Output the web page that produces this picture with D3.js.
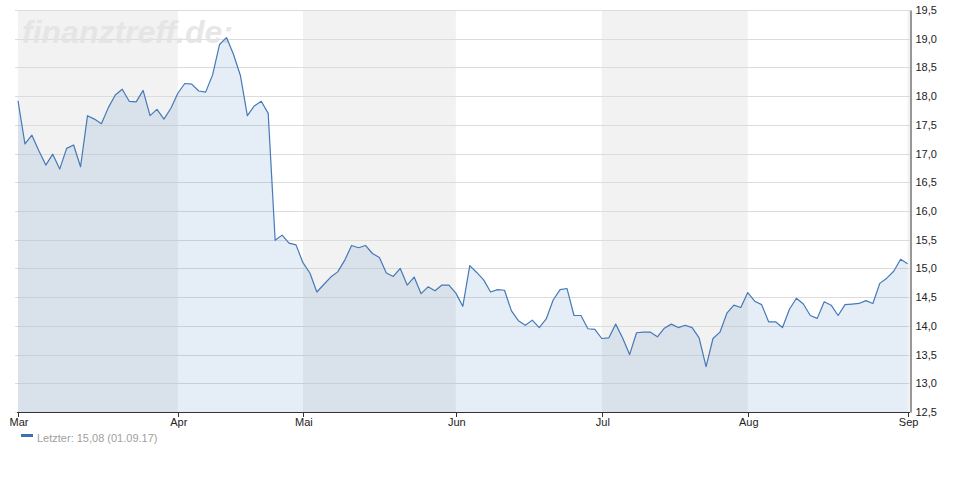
<!DOCTYPE html>
<html><head><meta charset="utf-8">
<script src="https://cdn.jsdelivr.net/npm/d3@7"></script>
<style>
html,body{margin:0;padding:0;background:#fff;}
svg{display:block;font-family:"Liberation Sans",Arial,sans-serif;}
</style></head>
<body><svg id="c" width="970" height="500"></svg>
<script>
// Daily closing prices (trading days, 01.03.17 – 01.09.17)
const values = [
17.92,17.17,17.32,17.05,16.80,16.99,16.73,17.09,17.15,16.77,
17.66,17.60,17.52,17.80,18.02,18.12,17.91,17.90,18.10,17.66,
17.77,17.60,17.79,
18.05,18.22,18.21,18.09,18.07,18.37,18.90,19.02,18.73,18.36,
17.66,17.83,17.91,17.70,15.49,15.58,15.44,15.41,
15.10,14.92,14.59,14.72,14.85,14.94,15.14,15.40,15.36,15.40,
15.26,15.19,14.92,14.86,15.00,14.71,14.85,14.56,14.68,14.61,
14.71,14.71,
14.57,14.34,15.05,14.93,14.80,14.59,14.63,14.62,14.26,14.09,
14.01,14.10,13.97,14.12,14.45,14.63,14.65,14.18,14.18,13.95,
13.94,
13.78,13.79,14.03,13.79,13.50,13.88,13.89,13.89,13.81,13.96,
14.03,13.97,14.01,13.97,13.79,13.29,13.78,13.89,14.22,14.36,
14.32,
14.58,14.43,14.37,14.07,14.07,13.97,14.29,14.48,14.38,14.18,
14.13,14.42,14.36,14.18,14.37,14.38,14.39,14.44,14.39,14.74,
14.83,14.95,15.16,
15.08
];
const monthLabels = ["Mar","Apr","Mai","Jun","Jul","Aug","Sep"];
const monthStartIdx = [0,23,41,63,84,105,128];
const yTicks = [12.5,13.0,13.5,14.0,14.5,15.0,15.5,16.0,16.5,17.0,17.5,18.0,18.5,19.0,19.5];
const legendText = "Letzter: 15,08 (01.09.17)";
const watermark = "finanztreff.de:";

const svg = d3.select("#c");
const x = d3.scaleLinear().domain([0, values.length-1]).range([18, 907.6]);
const y = d3.scaleLinear().domain([12.5, 19.5]).range([412, 10]);
const plotLeft = 15, plotRight = 910;

// alternating month bands
const bandG = svg.append("g");
monthStartIdx.forEach((s,i)=>{
  if (i%2===0){
    const e = i+1 < monthStartIdx.length ? x(monthStartIdx[i+1]) : plotRight;
    bandG.append("rect").attr("x", x(s)).attr("y", y(19.5))
      .attr("width", Math.max(0, e - x(s))).attr("height", y(12.5)-y(19.5))
      .attr("fill", "#f2f2f2");
  }
});

// gridlines
svg.append("g").selectAll("line").data(yTicks).join("line")
  .attr("x1", plotLeft).attr("x2", plotRight)
  .attr("y1", d=>Math.round(y(d))+0.5).attr("y2", d=>Math.round(y(d))+0.5)
  .attr("stroke", "#dcdcdc").attr("stroke-width", 1);

// watermark
svg.append("text").attr("x", 22).attr("y", 43).text(watermark)
  .attr("font-size", 32).attr("font-weight", "bold").attr("font-style", "italic")
  .attr("fill", "#e3e3e3").attr("fill-opacity", 0.85);

// area + line
const area = d3.area().x((d,i)=>x(i)).y0(y(12.5)).y1(d=>y(d));
svg.append("path").datum(values).attr("d", area)
  .attr("fill", "rgb(70,125,190)").attr("fill-opacity", 0.14);
const line = d3.line().x((d,i)=>x(i)).y(d=>y(d));
svg.append("path").datum(values).attr("d", line)
  .attr("fill", "none").attr("stroke", "#4579b8").attr("stroke-width", 1.2)
  .attr("stroke-linejoin", "round");

// x axis
const xAxisG = svg.append("g");
xAxisG.append("line").attr("x1", plotLeft+2).attr("x2", plotRight)
  .attr("y1", 412.5).attr("y2", 412.5).attr("stroke", "#333").attr("stroke-width", 1);
monthStartIdx.forEach((s,i)=>{
  const xx = Math.round(x(s))+0.5;
  xAxisG.append("line").attr("x1", xx).attr("x2", xx).attr("y1", 412).attr("y2", 417)
    .attr("stroke", "#333");
  xAxisG.append("text").attr("x", x(s)+1).attr("y", 426).attr("text-anchor", "middle")
    .attr("font-size", 11).attr("fill", "#222").text(monthLabels[i]);
});

// y axis (right)
const yAxis = d3.axisRight(y).tickValues(yTicks).tickSize(0).tickPadding(5)
  .tickFormat(d=>d3.format(".1f")(d).replace(".", ","));
const yg = svg.append("g").attr("transform", `translate(${plotRight+0.5},0)`).call(yAxis);
yg.select(".domain").attr("stroke", "#333");
yg.selectAll("text").attr("font-size", 11).attr("fill", "#222")
  .attr("font-family", "'Liberation Sans',Arial,sans-serif");

// legend
svg.append("rect").attr("x", 21).attr("y", 434).attr("width", 12).attr("height", 3)
  .attr("fill", "#3a70b5");
svg.append("text").attr("x", 37).attr("y", 442).attr("font-size", 11)
  .attr("fill", "#a0a0a0").text(legendText);
</script></body></html>
